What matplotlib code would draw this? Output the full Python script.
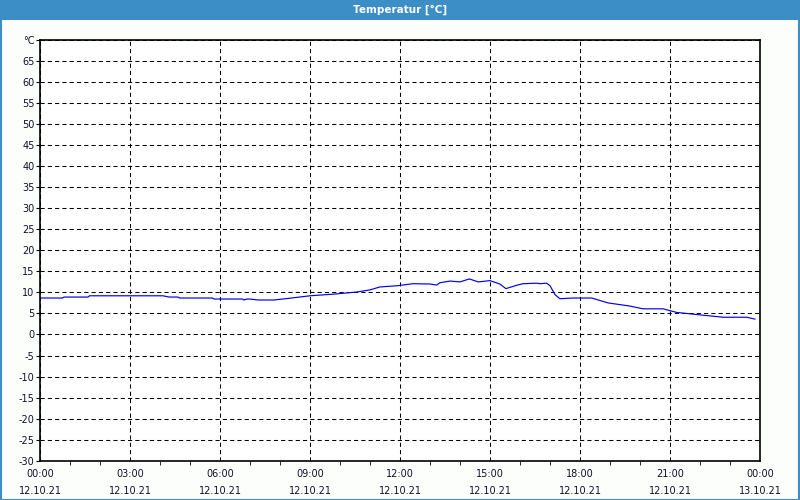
import matplotlib
matplotlib.use("Agg")
import matplotlib.pyplot as plt
from matplotlib.patches import Rectangle

# Messwerte (Stunden seit 12.10.21 00:00, Temperatur in °C)
stunden = [0.0, 0.75, 0.8, 1.6, 1.65, 4.1, 4.3, 4.6, 4.65, 5.75, 5.8, 6.75, 6.8, 6.9, 7.0,
           7.27, 7.8, 8.3, 9.0, 9.8, 10.56, 11.0, 11.33, 11.93, 12.43, 13.0, 13.22, 13.33,
           13.67, 14.0, 14.31, 14.61, 15.0, 15.33, 15.53, 15.89, 16.1, 16.56, 16.67, 16.89,
           17.0, 17.17, 17.33, 17.77, 18.39, 18.94, 19.67, 20.1, 20.77, 21.22, 22.22, 22.78,
           23.56, 23.83]
temperatur = [8.67, 8.67, 8.9, 8.9, 9.2, 9.2, 8.9, 8.9, 8.67, 8.67, 8.43, 8.43, 8.2, 8.43, 8.43,
              8.2, 8.2, 8.6, 9.2, 9.6, 10.1, 10.6, 11.3, 11.6, 12.07, 12.0, 11.75, 12.3,
              12.7, 12.5, 13.2, 12.5, 12.8, 12.0, 10.9, 11.7, 12.07, 12.2, 12.07, 12.2,
              11.6, 9.45, 8.5, 8.67, 8.67, 7.5, 6.75, 6.1, 6.1, 5.25, 4.5, 4.1,
              4.1, 3.65]

x_ticks = list(range(0, 25, 3))
x_labels = ["00:00\n12.10.21", "03:00\n12.10.21", "06:00\n12.10.21", "09:00\n12.10.21",
            "12:00\n12.10.21", "15:00\n12.10.21", "18:00\n12.10.21", "21:00\n12.10.21",
            "00:00\n13.10.21"]
y_ticks = list(range(-30, 75, 5))
y_labels = [str(v) for v in y_ticks[:-1]] + ["°C"]

blau = "#3b8fc6"
schrift = "#10102a"

fig = plt.figure(figsize=(8, 5), dpi=100, facecolor="#fcfefc")

# Titelleiste und Rahmen
fig.add_artist(Rectangle((0, 1 - 20 / 500), 1, 20 / 500, transform=fig.transFigure,
                         facecolor=blau, edgecolor="none", zorder=0))
fig.add_artist(Rectangle((0.001, 0.001), 0.998, 0.998, transform=fig.transFigure,
                         facecolor="none", edgecolor=blau, linewidth=1.5, zorder=0))
fig.text(0.5, 1 - 10 / 500, "Temperatur [°C]", color="white", fontsize=7.5,
         fontweight="bold", ha="center", va="center")

ax = fig.add_axes([40 / 800, 39.3 / 500, 720 / 800, 420.7 / 500])
ax.set_facecolor("white")
ax.plot(stunden, temperatur, color="#0000ee", linewidth=0.85)

ax.set_xlim(0, 24)
ax.set_ylim(-30, 70)
ax.set_xticks(x_ticks)
ax.set_xticklabels(x_labels, linespacing=1.9)
ax.set_xticks(range(0, 25), minor=True)
ax.set_yticks(y_ticks)
ax.set_yticklabels(y_labels)

ax.tick_params(axis="x", which="major", length=0, pad=6, labelsize=7, labelcolor=schrift)
ax.tick_params(axis="x", which="minor", length=3, direction="out", color="black")
ax.tick_params(axis="y", which="major", length=3, pad=1, labelsize=7, labelcolor=schrift)

ax.grid(True, which="major", color="black", linestyle=(0, (4, 3)), linewidth=0.75)
for s in ax.spines.values():
    s.set_linewidth(1.2)
    s.set_color("black")

plt.savefig("out.png", dpi=100, facecolor=fig.get_facecolor())
